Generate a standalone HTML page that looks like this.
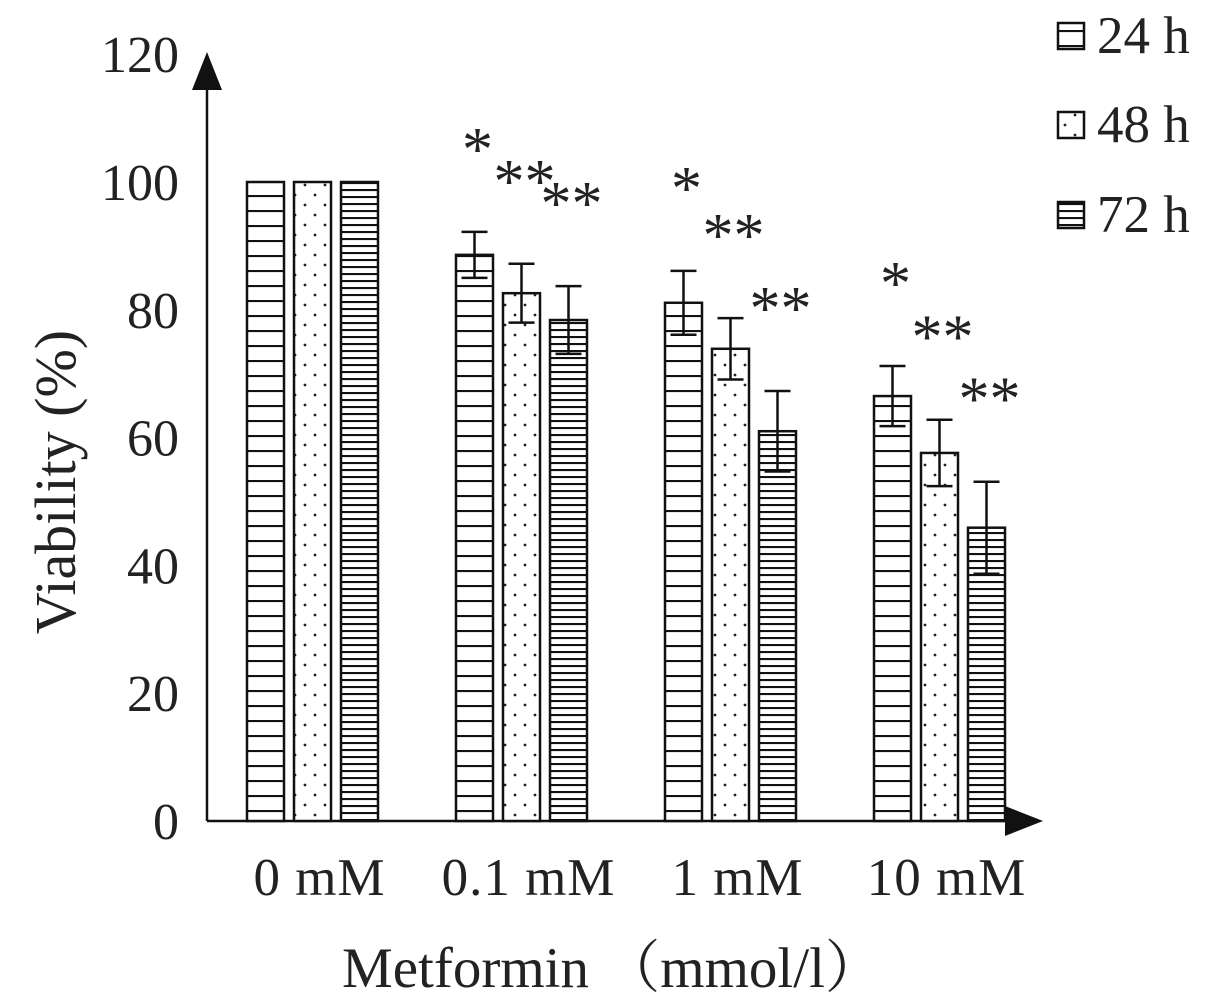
<!DOCTYPE html>
<html><head><meta charset="utf-8"><style>
body{margin:0;background:#fff}
svg text{font-family:"Liberation Serif","Noto Serif CJK SC",serif;fill:#222}
</style></head><body>
<svg id="chart" width="1205" height="1002" viewBox="0 0 1205 1002">
<defs>
<pattern id="p24" width="8" height="15" patternUnits="userSpaceOnUse" y="0"><rect width="8" height="15" fill="#fff"/><line x1="0" y1="1" x2="8" y2="1" stroke="#111" stroke-width="2.2"/></pattern>
<pattern id="p48" width="20" height="20" patternUnits="userSpaceOnUse"><rect width="20" height="20" fill="#fff"/><circle cx="5" cy="5" r="1.4" fill="#222"/><circle cx="15" cy="15" r="1.4" fill="#222"/></pattern>
<pattern id="p72" width="8" height="7" patternUnits="userSpaceOnUse"><rect width="8" height="7" fill="#fff"/><line x1="0" y1="1" x2="8" y2="1" stroke="#111" stroke-width="2.2"/></pattern>
</defs>
<g id="plot"></g>
</svg>
<script>
const categories=["0 mM","0.1 mM","1 mM","10 mM"];
const series=["24 h","48 h","72 h"];
const v24=[100,88.6,81.1,66.5];
const v48=[100,82.6,73.9,57.6];
const v72=[100,78.4,61.0,45.9];
const e24=[0,3.6,5.0,4.7];
const e48=[0,4.6,4.8,5.2];
const e72=[0,5.3,6.3,7.2];
const sig24=["","*","*","*"];
const sig48=["","**","**","**"];
const sig72=["","**","**","**"];
const yTicks=[0,20,40,60,80,100,120];

const NS="http://www.w3.org/2000/svg";
const g=document.getElementById('plot');
const y0=821,pxPer=6.39;
function ys(v){return y0-v*pxPer;}
const groupStart=[247,456,665,874],barW=37,barStep=47;
function xs(ci,si){return groupStart[ci]+si*barStep;}
function mk(tag,attrs,text){const e=document.createElementNS(NS,tag);for(const k in attrs)e.setAttribute(k,attrs[k]);if(text!==undefined)e.textContent=text;g.appendChild(e);return e;}

let a=mk('line',{x1:207,y1:ys(0),x2:207,y2:80,stroke:'#111','stroke-width':2.5});

a=mk('polygon',{points:'207,52 192,90 222,90',fill:'#111'});

a=mk('line',{x1:207,y1:y0,x2:1010,y2:y0,stroke:'#111','stroke-width':2.5});

a=mk('polygon',{points:'1043,821 1005,806 1005,836',fill:'#111'});


yTicks.forEach(t=>{const e=mk('text',{x:179,y:ys(t)+18,'text-anchor':'end','font-size':52},String(t));
});
categories.forEach((c,i)=>{const e=mk('text',{x:xs(i,1)+barW/2+7,y:895,'text-anchor':'middle','font-size':53,'letter-spacing':1},c);
});
let t=mk('text',{x:75,y:482,'text-anchor':'middle','font-size':58,transform:'rotate(-90 75 482)'},'Viability (%)');

t=mk('text',{x:612,y:987,'text-anchor':'middle','font-size':57},'Metformin （mmol/l）');


const vals=[v24,v48,v72],errs=[e24,e48,e72],sigs=[sig24,sig48,sig72],pats=['p24','p48','p72'];
vals.forEach((arr,si)=>{arr.forEach((v,ci)=>{
  const x=xs(ci,si);
  const r=mk('rect',{x:x,y:ys(v),width:barW,height:y0-ys(v),fill:'url(#'+pats[si]+')',stroke:'#111','stroke-width':2.5});
  
  
  const e=errs[si][ci];
  if(e>0){const cx=x+barW/2;
    const p=mk('path',{d:`M${cx},${ys(v+e)}V${ys(v-e)}M${cx-13},${ys(v+e)}H${cx+13}M${cx-13},${ys(v-e)}H${cx+13}`,stroke:'#111','stroke-width':2.5,fill:'none'});
    }
  const s=sigs[si][ci];
  if(s){const st=mk('text',{x:x+barW/2+3,y:ys(v+e)-62,'text-anchor':'middle','font-size':62},s);
    }
});});

const legY=[36,125,215];
series.forEach((s,i)=>{
  const r=mk('rect',{x:1058,y:legY[i]-13,width:26,height:26,fill:'url(#'+pats[i]+')',stroke:'#111','stroke-width':2.5});
  
  const tx=mk('text',{x:1097,y:legY[i]+17,'font-size':53},s);
  
});
</script>
</body></html>
